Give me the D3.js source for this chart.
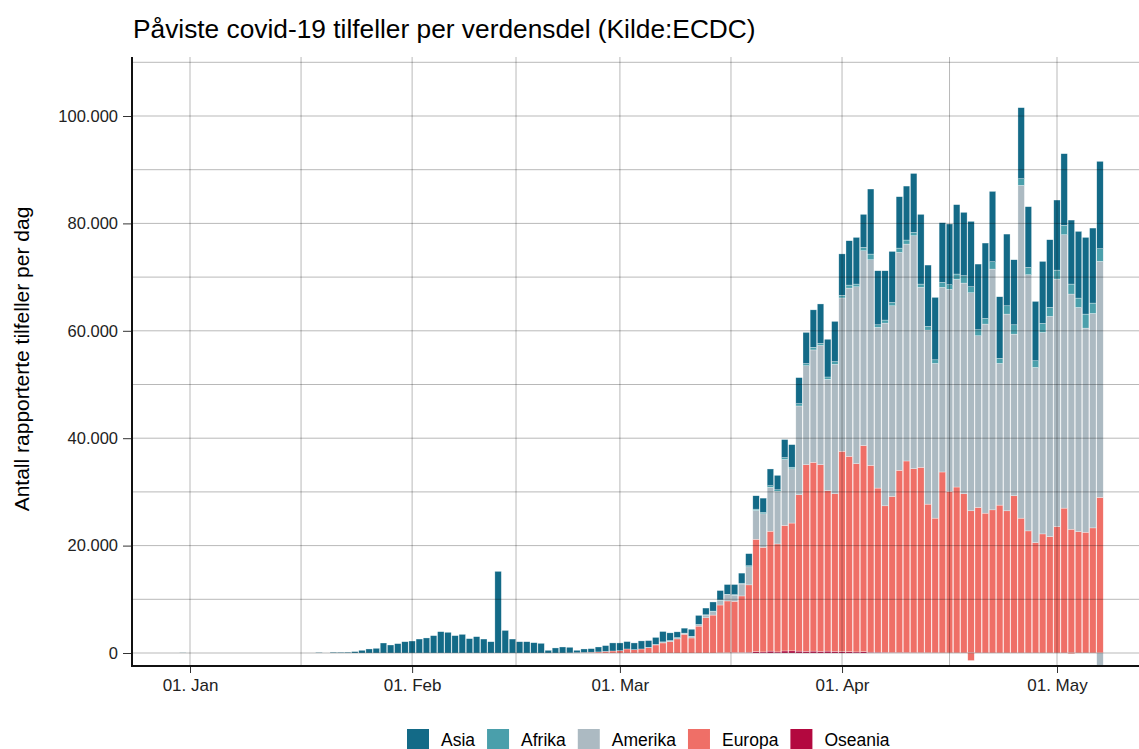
<!DOCTYPE html>
<html>
<head>
<meta charset="utf-8">
<script src="https://cdn.jsdelivr.net/npm/d3@7"></script>
<style>
  body { margin: 0; background: #fff; }
  text { font-family: "Liberation Sans", Arial, sans-serif; }
</style>
</head>
<body>
<div id="chart"></div>
<script>
// daily values, first entry = 31 Dec 2019, last = 7 May 2020
const startDate = new Date(2019, 11, 31);

const asia = [
  27, 0, 0, 0, 0, 0, 0, 0, 0, 0, 0, 0, 0, 0, 0, 0, 0, 0, 0,
  80, 0, 140, 130, 150, 260, 500, 750, 870, 1860, 1490, 1740, 2100,
  2230, 2600, 2800, 3230, 3970, 3850, 3230, 3470, 2670, 3040, 2600, 2100, 15200,
  4200, 2600, 2100, 2100, 1920, 1800, 500, 940, 1120, 1040, 440, 650, 660, 920,
  1075, 1500, 1435, 1375, 1250, 1500, 1250, 1300, 1925, 1425, 1065, 925, 1310,
  1690, 1250, 1690, 1750, 1810, 1875, 1875, 2250, 2490, 2670, 3120, 2680, 3360,
  4200, 4850, 5800, 6970, 7350, 7020, 7490, 7700, 8260, 8690, 6150, 12110, 10060,
  9180, 9500, 9570, 10050, 10980, 12980, 11430, 11620, 11110, 11310, 12920, 11800,
  12170, 12230, 14040, 13100, 11490, 13350, 12110, 13230, 11310, 11050, 11550,
  12610, 13050, 13350, 11920, 12420, 14280, 13970, 16270
];

const afrika = [
  0, 0, 0, 0, 0, 0, 0, 0, 0, 0, 0, 0, 0, 0, 0, 0, 0, 0, 0, 0,
  0, 0, 0, 0, 0, 0, 0, 0, 0, 0, 0, 0, 0, 0, 0, 0, 0, 0, 0, 0,
  0, 0, 0, 0, 0, 0, 0, 0, 0, 0, 0, 0, 0, 0, 0, 0, 0, 0, 0, 0,
  0, 0, 0, 0, 0, 0, 0, 0, 0, 0,
  20, 30, 50, 60, 80, 100, 100, 120, 150, 200, 250, 250, 300, 300, 350, 300,
  430, 400, 490, 380, 430, 520, 500, 560, 500, 620, 1060, 490, 570, 620, 800,
  750, 620, 620, 680, 680, 930, 870, 990, 1370, 1120, 1120, 1050, 1370, 930,
  1550, 1740, 1240, 1360, 1250, 1680, 1680, 1670, 1740, 1860, 1740, 2610, 1930, 2360
];

const amerika = [
  0, 0, 0, 0, 0, 0, 0, 0, 0, 0, 0, 0, 0, 0, 0, 0, 0, 0, 0, 0,
  0, 0, 0, 0, 0, 0, 0, 0, 0, 0, 0, 0, 0, 0, 0, 0, 0, 0, 0, 0,
  0, 0, 0, 0, 0, 0, 0, 0, 0, 0, 0, 0, 0, 0, 0, 0, 0, 0, 0, 0,
  0, 0, 0, 0, 0,
  60, 100, 200, 200, 250, 180, 280, 260, 500, 670, 840, 1150, 1130, 2225, 3360,
  5360, 6230, 8170, 9790, 12300, 10100, 16530, 18430, 20930, 22190, 20750, 24080,
  28550, 31320, 32940, 36280, 38280, 29920, 34020, 35500, 40580, 40390, 43370,
  33500, 32410, 28810, 34380, 37610, 38670, 39230, 40600, 31970, 35210, 44830,
  26380, 36630, 30100, 61970, 47700, 32610, 37510, 40990, 46080, 50910, 43790,
  41740, 38010, 39930, 43950
];

const europa = [
  0, 0, 0, 0, 0, 0, 0, 0, 0, 0, 0, 0, 0, 0, 0, 0, 0, 0, 0, 0,
  0, 0, 0, 0, 0, 0, 0, 0, 0, 0, 0, 0, 0, 0, 0, 0, 0, 0, 0, 0,
  0, 0, 0, 0, 0, 0, 0, 0, 0, 0, 0, 0, 0, 0,
  20, 60, 100, 150, 200, 300, 375, 440, 750, 625, 750, 1000, 1500, 1875, 2125,
  2625, 3500, 2800, 5000, 6560, 7060, 8910, 9640, 9545, 10525, 12540, 20930,
  19490, 22330, 20110, 23360, 23800, 29120, 34770, 35160, 34780, 29870, 29360,
  37290, 36380, 35060, 38380, 34800, 30560, 27290, 29060, 33920, 35680, 34270,
  34520, 27670, 25070, 33680, 30070, 30880, 29630, 26460, 27080, 26020, 26640,
  27520, 26460, 29260, 25090, 22720, 20540, 22160, 21660, 23530, 26960, 23030,
  22590, 22470, 23280, 28950
];

const oseania = [
  0, 0, 0, 0, 0, 0, 0, 0, 0, 0, 0, 0, 0, 0, 0, 0, 0, 0, 0, 0,
  0, 0, 0, 0, 0, 0, 0, 0, 0, 0, 0, 0, 0, 0, 0, 0, 0, 0, 0, 0,
  0, 0, 0, 0, 0, 0, 0, 0, 0, 0, 0, 0, 0, 0, 0, 0, 0, 0, 0, 0,
  0, 0, 0, 0, 0, 0, 0, 0, 0, 0, 0, 0, 0, 0, 0,
  30, 50, 80, 100, 150, 250, 200, 350, 200, 380, 400, 350, 300, 350, 300, 350,
  300, 280, 250, 200, 250, 150, 150, 120, 100, 100, 80, 60, 60, 50, 40,
  30, 30, 30, 25, 25, 25, 20, 20, 20, 20, 20, 20, 20, 20, 20, 20, 20, 20, 20, 20, 20, 20, 20
];

// negative corrections reported on single days
const negDates = ["2020-04-19", "2020-05-03", "2020-05-07"];
const negRegion = ["Europa", "Europa", "Amerika"];
const negValues = [-1400, -150, -2300];

const regions = ["Asia", "Afrika", "Amerika", "Europa", "Oseania"];
const colors = ["#136a87", "#4a9fab", "#acbac2", "#ef6f67", "#b3083f"];
const yTicks = [0, 20000, 40000, 60000, 80000, 100000];
const monthTicks = ["2020-01-01", "2020-02-01", "2020-03-01", "2020-04-01", "2020-05-01"];
const monthNames = ["Jan", "Feb", "Mar", "Apr", "May"];

const W = 1139, H = 749;
const margin = { top: 57, right: 0, bottom: 83, left: 132 };

const color = d3.scaleOrdinal(regions, colors);
const parse = d3.timeParse("%Y-%m-%d");
const fmtNo = d3.formatLocale({ decimal: ",", thousands: ".", grouping: [3], currency: ["", ""] }).format(",");

const dates = asia.map((v, i) => d3.timeDay.offset(startDate, i));
const series = { Asia: asia, Afrika: afrika, Amerika: amerika, Europa: europa, Oseania: oseania };

// rows for stacking, negatives as own keys so they stack downward
const rows = dates.map((d, i) => {
  const r = { date: d };
  regions.forEach(k => r[k] = series[k][i]);
  r.EuropaNeg = 0;
  r.AmerikaNeg = 0;
  return r;
});
negDates.forEach((s, j) => {
  const t = +parse(s);
  const row = rows.find(r => +r.date === t);
  if (row) row[negRegion[j] + "Neg"] = negValues[j];
});

const keys = ["Oseania", "Europa", "Amerika", "Afrika", "Asia", "EuropaNeg", "AmerikaNeg"];
const stacked = d3.stack().keys(keys).offset(d3.stackOffsetDiverging)(rows);

const x = d3.scaleTime()
  .domain([parse("2020-01-01"), parse("2020-05-01")])
  .range([190, 1057]);
const dayW = x(parse("2020-01-02")) - x(parse("2020-01-01"));

const y = d3.scaleLinear().domain([0, 100000]).range([653, 116]);

const svg = d3.select("#chart").append("svg")
  .attr("width", W)
  .attr("height", H);

svg.append("defs").append("clipPath").attr("id", "panel")
  .append("rect")
  .attr("x", margin.left).attr("y", margin.top)
  .attr("width", W - margin.left).attr("height", H - margin.bottom - margin.top);

// title
svg.append("text")
  .attr("x", 133)
  .attr("y", 38)
  .style("font-size", "26.3px")
  .style("fill", "#000")
  .text("Påviste covid-19 tilfeller per verdensdel (Kilde:ECDC)");

// bars
const barG = svg.append("g").attr("clip-path", "url(#panel)");
stacked.forEach(s => {
  const fill = color(s.key.replace("Neg", ""));
  barG.append("g")
    .selectAll("rect")
    .data(s.filter(d => d[1] !== d[0]))
    .join("rect")
    .attr("x", d => x(d.data.date) - dayW * 0.45)
    .attr("width", dayW * 0.9)
    .attr("y", d => y(Math.max(d[0], d[1])))
    .attr("height", d => Math.abs(y(d[0]) - y(d[1])))
    .attr("fill", fill)
    .attr("stroke", "#ffffff")
    .attr("stroke-opacity", 0.6)
    .attr("stroke-width", 0.5);
});

// grid drawn over bars
const grid = svg.append("g").attr("clip-path", "url(#panel)");
const hLines = yTicks.concat(d3.range(10000, 110001, 20000));
grid.selectAll(".h").data(hLines).join("line")
  .attr("x1", margin.left).attr("x2", W)
  .attr("y1", d => y(d)).attr("y2", d => y(d))
  .attr("stroke", "#000").attr("stroke-opacity", 0.28).attr("stroke-width", 1);

const majorX = monthTicks.map(parse);
const minorX = d3.pairs(majorX).map(p => new Date((+p[0] + +p[1]) / 2));
grid.selectAll(".v").data(majorX.concat(minorX)).join("line")
  .attr("x1", d => x(d)).attr("x2", d => x(d))
  .attr("y1", margin.top).attr("y2", H - margin.bottom)
  .attr("stroke", "#000").attr("stroke-opacity", 0.28).attr("stroke-width", 1);

// axes
const yAxis = svg.append("g")
  .attr("transform", `translate(${margin.left},0)`)
  .call(d3.axisLeft(y).tickValues(yTicks).tickFormat(fmtNo).tickSize(9).tickPadding(5));
yAxis.select(".domain").remove();
yAxis.selectAll(".tick line").attr("stroke", "#333");
yAxis.selectAll("text").style("font-size", "16.5px").style("fill", "#222")
  .style("font-family", "Liberation Sans, Arial, sans-serif");

const xAxis = svg.append("g")
  .attr("transform", `translate(0,${H - margin.bottom})`)
  .call(d3.axisBottom(x).tickValues(majorX)
    .tickFormat(d => d3.timeFormat("%d. ")(d) + monthNames[d.getMonth()])
    .tickSize(7).tickPadding(6));
xAxis.select(".domain").remove();
xAxis.selectAll(".tick line").attr("stroke", "#333");
xAxis.selectAll("text").style("font-size", "17px").style("fill", "#222")
  .style("font-family", "Liberation Sans, Arial, sans-serif");

svg.append("line")
  .attr("x1", margin.left).attr("x2", margin.left)
  .attr("y1", margin.top).attr("y2", H - margin.bottom + 1)
  .attr("stroke", "#111").attr("stroke-width", 2);
svg.append("line")
  .attr("x1", margin.left - 1).attr("x2", W)
  .attr("y1", H - margin.bottom).attr("y2", H - margin.bottom)
  .attr("stroke", "#111").attr("stroke-width", 2);

// y title
svg.append("text")
  .attr("transform", "translate(29,359) rotate(-90)")
  .attr("text-anchor", "middle")
  .style("font-size", "21px")
  .text("Antall rapporterte tilfeller per dag");

// legend
const legend = svg.append("g").attr("transform", "translate(0,729)");
let lx = 407;
regions.forEach(r => {
  legend.append("rect")
    .attr("x", lx).attr("y", 0)
    .attr("width", 22).attr("height", 22)
    .attr("fill", color(r));
  const t = legend.append("text")
    .attr("x", lx + 34).attr("y", 17)
    .style("font-size", "17.5px")
    .text(r);
  lx += 34 + t.node().getComputedTextLength() + 12;
});
</script>
</body>
</html>
